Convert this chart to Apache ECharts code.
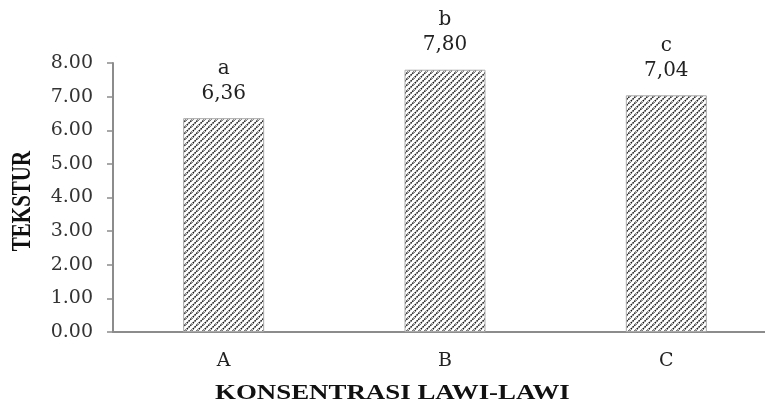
<!DOCTYPE html>
<html>
<head>
    <meta charset="utf-8">
    <title>Tekstur</title>
    <script src="https://cdn.jsdelivr.net/npm/echarts/dist/echarts.min.js"></script>
</head>
<body style="margin:0">
    <div id="main" style="width: 765px;height:406px;"></div>
    <script>
        var categories = ['A', 'B', 'C'];
        var values = [6.36, 7.80, 7.04];
        var letters = ['a', 'b', 'c'];
        var yTicks = [0, 1, 2, 3, 4, 5, 6, 7, 8];

        // hatch pattern for the bars
        var pat = document.createElement('canvas');
        pat.width = 6;
        pat.height = 6;
        var ctx = pat.getContext('2d');
        ctx.fillStyle = '#fff';
        ctx.fillRect(0, 0, 6, 6);
        ctx.strokeStyle = '#111';
        ctx.lineWidth = 1.5;
        ctx.setLineDash([1.6, 0.9]);
        ctx.beginPath();
        ctx.moveTo(-1, 7); ctx.lineTo(7, -1);
        ctx.moveTo(-4, 4); ctx.lineTo(4, -4);
        ctx.moveTo(2, 10); ctx.lineTo(10, 2);
        ctx.stroke();

        var font = '"Liberation Serif", "Times New Roman", serif';
        var wide = '"DejaVu Serif", serif';
        var chartDom = document.getElementById('main');
        var myChart = echarts.init(chartDom);

        var option = {
            animation: false,
            grid: { left: 113, right: -12, top: 63, bottom: 74, outerBoundsMode: 'none' },
            xAxis: {
                type: 'category',
                data: categories,
                axisLine: { lineStyle: { color: '#8c8c8c', width: 2 } },
                axisTick: { show: false },
                axisLabel: { color: '#222', fontFamily: wide, fontSize: 19, margin: 20 }
            },
            yAxis: {
                type: 'value',
                min: yTicks[0],
                max: yTicks[yTicks.length - 1],
                interval: 1,
                splitLine: { show: false },
                axisLine: { show: true, lineStyle: { color: '#8c8c8c', width: 2 } },
                axisTick: { show: true, length: 6, lineStyle: { color: '#8c8c8c', width: 1.5 } },
                axisLabel: {
                    color: '#333', fontFamily: wide, fontSize: 19, margin: 20,
                    formatter: function (v) { return v.toFixed(2); }
                }
            },
            series: [{
                type: 'bar',
                data: values,
                barWidth: 81,
                itemStyle: {
                    color: { image: pat, repeat: 'repeat' },
                    borderColor: '#aaa',
                    borderWidth: 1
                },
                label: {
                    show: true,
                    position: 'top',
                    distance: 12,
                    formatter: function (p) {
                        return '{l|' + letters[p.dataIndex] + '}\n{v|' + p.value.toFixed(2).replace('.', ',') + '}';
                    },
                    rich: {
                        l: { fontFamily: wide, fontSize: 20, color: '#222', lineHeight: 25 },
                        v: { fontFamily: wide, fontSize: 20, color: '#222', lineHeight: 25 }
                    }
                }
            }],
            graphic: [
                {
                    type: 'text', x: 23, y: 201, rotation: Math.PI / 2, scaleY: 1.25,
                    style: {
                        text: 'TEKSTUR', font: 'bold 21px ' + font, fill: '#111',
                        textAlign: 'center', textVerticalAlign: 'middle'
                    }
                },
                {
                    type: 'text', x: 215, y: 394, scaleX: 1.28,
                    style: {
                        text: 'KONSENTRASI LAWI-LAWI', font: 'bold 21px ' + font, fill: '#111',
                        textAlign: 'left', textVerticalAlign: 'middle'
                    }
                }
            ]
        };

        myChart.setOption(option);
    </script>
</body>
</html>
